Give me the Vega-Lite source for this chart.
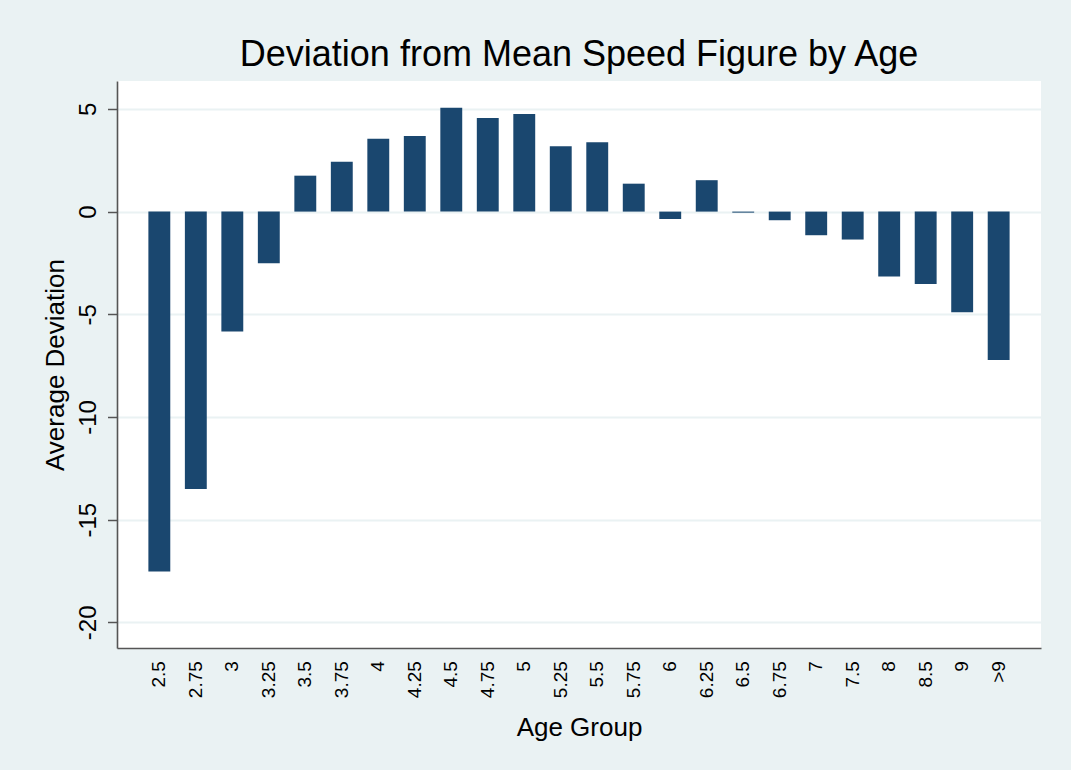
{
  "$schema": "https://vega.github.io/schema/vega-lite/v6.json",
  "autosize": {"type": "none"},
  "width": 924,
  "height": 567,
  "padding": {"left": 117, "top": 81, "right": 30, "bottom": 122},
  "background": "#EAF2F3",
  "title": {
    "text": "Deviation from Mean Speed Figure by Age",
    "font": "Liberation Sans",
    "fontSize": 36,
    "fontWeight": "normal",
    "color": "#000000",
    "anchor": "middle",
    "frame": "group",
    "baseline": "alphabetic",
    "offset": -21
  },
  "config": {
    "view": {"fill": "#FFFFFF", "stroke": null},
    "font": "Liberation Sans"
  },
  "data": {
    "values": [
      {"age": "2.5", "dev": -17.52},
      {"age": "2.75", "dev": -13.51},
      {"age": "3", "dev": -5.84},
      {"age": "3.25", "dev": -2.51},
      {"age": "3.5", "dev": 1.75},
      {"age": "3.75", "dev": 2.43},
      {"age": "4", "dev": 3.55},
      {"age": "4.25", "dev": 3.68},
      {"age": "4.5", "dev": 5.06},
      {"age": "4.75", "dev": 4.56},
      {"age": "5", "dev": 4.75},
      {"age": "5.25", "dev": 3.18},
      {"age": "5.5", "dev": 3.38},
      {"age": "5.75", "dev": 1.36},
      {"age": "6", "dev": -0.36},
      {"age": "6.25", "dev": 1.53},
      {"age": "6.5", "dev": -0.05},
      {"age": "6.75", "dev": -0.42},
      {"age": "7", "dev": -1.15},
      {"age": "7.5", "dev": -1.36},
      {"age": "8", "dev": -3.16},
      {"age": "8.5", "dev": -3.52},
      {"age": "9", "dev": -4.9},
      {"age": ">9", "dev": -7.22}
    ]
  },
  "mark": {"type": "bar", "color": "#1A476F"},
  "encoding": {
    "x": {
      "field": "age",
      "type": "nominal",
      "sort": null,
      "scale": {"paddingInner": 0.4, "paddingOuter": 0.86},
      "axis": {
        "title": "Age Group",
        "titleFont": "Liberation Sans",
        "titleFontSize": 26,
        "titleFontWeight": "normal",
        "titleColor": "#000000",
        "titleBaseline": "alphabetic",
        "titleAlign": "center",
        "titleX": 462,
        "titleY": 87,
        "labelAngle": -90,
        "labelAlign": "right",
        "labelBaseline": "middle",
        "labelFont": "Liberation Sans",
        "labelFontSize": 19,
        "labelColor": "#000000",
        "labelPadding": 12.7,
        "ticks": false,
        "tickSize": 0,
        "domainColor": "#555555",
        "domainWidth": 1.6,
        "grid": false
      }
    },
    "y": {
      "field": "dev",
      "type": "quantitative",
      "scale": {"domain": [-21.25, 6.36], "nice": false, "zero": false},
      "axis": {
        "title": "Average Deviation",
        "titleFont": "Liberation Sans",
        "titleFontSize": 26,
        "titleFontWeight": "normal",
        "titleColor": "#000000",
        "titleAngle": -90,
        "titleBaseline": "alphabetic",
        "titleAlign": "center",
        "titleX": -54,
        "titleY": 283.5,
        "values": [-20, -15, -10, -5, 0, 5],
        "labelExpr": "datum.value < 0 ? '-' + abs(datum.value) : '' + datum.value",
        "labelAngle": -90,
        "labelAlign": "center",
        "labelBaseline": "alphabetic",
        "labelFont": "Liberation Sans",
        "labelFontSize": 24,
        "labelColor": "#000000",
        "labelPadding": 12.3,
        "tickSize": 9.5,
        "tickColor": "#555555",
        "tickWidth": 1.5,
        "domainColor": "#555555",
        "domainWidth": 1.6,
        "grid": true,
        "gridColor": "#EAF2F3",
        "gridWidth": 2
      }
    }
  }
}
